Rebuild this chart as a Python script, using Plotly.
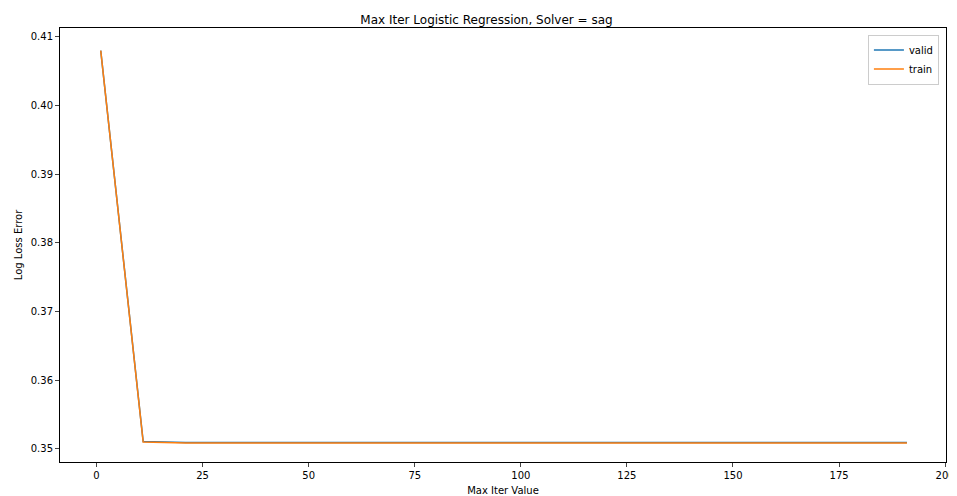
import plotly.graph_objects as go

max_iter = list(range(1, 192, 10))
valid_loss = [0.4080, 0.3511] + [0.35095] * 18
train_loss = [0.4080, 0.3510] + [0.35088] * 18

fig = go.Figure()
fig.add_trace(go.Scatter(x=max_iter, y=valid_loss, mode="lines", name="valid",
                         line=dict(color="#1f77b4", width=1.5)))
fig.add_trace(go.Scatter(x=max_iter, y=train_loss, mode="lines", name="train",
                         line=dict(color="#ff7f0e", width=1.5)))

axis = dict(showgrid=False, zeroline=False, showline=True, mirror=True,
            linecolor="black", linewidth=1, ticks="outside", ticklen=4,
            tickfont=dict(size=10, color="black"))
fig.update_layout(
    width=957, height=496,
    margin=dict(l=51, r=10, t=20, b=38),
    paper_bgcolor="white", plot_bgcolor="white",
    font=dict(family="DejaVu Sans", size=10, color="black"),
    title=dict(text="Max Iter Logistic Regression, Solver = sag", x=0.5, y=0.985,
               xanchor="center", yanchor="top", font=dict(size=12)),
    xaxis=dict(axis, range=[-8.6, 200.2], tickvals=list(range(0, 201, 25)),
               title=dict(text="Max Iter Value", font=dict(size=10), standoff=6)),
    yaxis=dict(axis, range=[0.3481, 0.4113], tickvals=[0.35, 0.36, 0.37, 0.38, 0.39, 0.40, 0.41],
               tickformat=".2f",
               title=dict(text="Log Loss Error", font=dict(size=10), standoff=6)),
    legend=dict(x=0.992, y=0.985, xanchor="right", yanchor="top",
                bordercolor="#cccccc", borderwidth=1, bgcolor="white",
                font=dict(size=10)),
)
fig.write_html("out.html")
